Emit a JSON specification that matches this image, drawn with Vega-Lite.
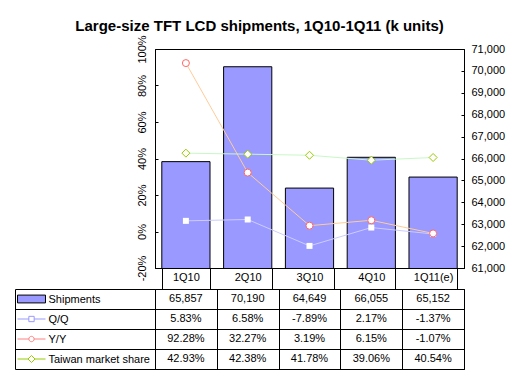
{
  "$schema": "https://vega.github.io/schema/vega-lite/v6.json",
  "background": "white",
  "padding": {"left": 14, "top": 19, "right": 5, "bottom": 5},
  "title": {"text": "Large-size TFT LCD shipments, 1Q10-1Q11 (k units)", "font": "Liberation Sans", "fontSize": 15, "fontWeight": "bold", "color": "black", "anchor": "middle", "frame": "bounds", "offset": 0},
  "config": {
    "font": "Liberation Sans",
    "view": {"stroke": "black", "strokeWidth": 1},
    "axis": {"labelFont": "Liberation Sans", "labelColor": "black", "labelFontSize": 11, "domainColor": "black", "tickColor": "black", "title": null, "labelOverlap": false, "labelFlush": false}
  },
  "datasets": {
    "main": [
      {"quarter": "1Q10", "shipments": 65857, "qq": 5.83, "yy": 92.28, "share": 42.93},
      {"quarter": "2Q10", "shipments": 70190, "qq": 6.58, "yy": 32.27, "share": 42.38},
      {"quarter": "3Q10", "shipments": 64649, "qq": -7.89, "yy": 3.19, "share": 41.78},
      {"quarter": "4Q10", "shipments": 66055, "qq": 2.17, "yy": 6.15, "share": 39.06},
      {"quarter": "1Q11(e)", "shipments": 65152, "qq": -1.37, "yy": -1.07, "share": 40.54}
    ],
    "table": [
      {"quarter": "1Q10", "row": "Shipments", "label": "65,857"},
      {"quarter": "2Q10", "row": "Shipments", "label": "70,190"},
      {"quarter": "3Q10", "row": "Shipments", "label": "64,649"},
      {"quarter": "4Q10", "row": "Shipments", "label": "66,055"},
      {"quarter": "1Q11(e)", "row": "Shipments", "label": "65,152"},
      {"quarter": "1Q10", "row": "Q/Q", "label": "5.83%"},
      {"quarter": "2Q10", "row": "Q/Q", "label": "6.58%"},
      {"quarter": "3Q10", "row": "Q/Q", "label": "-7.89%"},
      {"quarter": "4Q10", "row": "Q/Q", "label": "2.17%"},
      {"quarter": "1Q11(e)", "row": "Q/Q", "label": "-1.37%"},
      {"quarter": "1Q10", "row": "Y/Y", "label": "92.28%"},
      {"quarter": "2Q10", "row": "Y/Y", "label": "32.27%"},
      {"quarter": "3Q10", "row": "Y/Y", "label": "3.19%"},
      {"quarter": "4Q10", "row": "Y/Y", "label": "6.15%"},
      {"quarter": "1Q11(e)", "row": "Y/Y", "label": "-1.07%"},
      {"quarter": "1Q10", "row": "Taiwan market share", "label": "42.93%"},
      {"quarter": "2Q10", "row": "Taiwan market share", "label": "42.38%"},
      {"quarter": "3Q10", "row": "Taiwan market share", "label": "41.78%"},
      {"quarter": "4Q10", "row": "Taiwan market share", "label": "39.06%"},
      {"quarter": "1Q11(e)", "row": "Taiwan market share", "label": "40.54%"}
    ]
  },
  "bounds": "flush",
  "spacing": 21,
  "vconcat": [
    {
      "width": 309,
      "height": 219,
      "data": {"name": "main"},
      "encoding": {
        "x": {
          "field": "quarter", "type": "nominal",
          "sort": ["1Q10", "2Q10", "3Q10", "4Q10", "1Q11(e)"],
          "scale": {"paddingInner": 0.22, "paddingOuter": 0.11},
          "axis": {"orient": "bottom", "tickBand": "extent", "tickSize": 21, "labelAngle": 0, "labelPadding": -18, "domain": true}
        }
      },
      "layer": [
        {
          "mark": {"type": "bar", "fill": "#9999FF", "stroke": "black", "strokeWidth": 1, "clip": true},
          "encoding": {
            "y": {
              "field": "shipments", "type": "quantitative",
              "scale": {"domain": [61000, 71000], "zero": false, "nice": false},
              "axis": {"orient": "right", "values": [61000, 62000, 63000, 64000, 65000, 66000, 67000, 68000, 69000, 70000, 71000], "labelExpr": "format(datum.value, ',')", "tickSize": -3, "labelPadding": 10, "grid": false, "labelOverlap": false}
            }
          }
        },
        {
          "layer": [
            {
              "mark": {"type": "line", "stroke": "#CCCCFF", "strokeWidth": 1},
              "encoding": {"y": {"field": "qq", "type": "quantitative", "scale": {"domain": [-20, 100], "zero": false, "nice": false}, "axis": {"orient": "left", "values": [-20, 0, 20, 40, 60, 80, 100], "labelExpr": "datum.value + '%'", "labelAngle": -90, "tickSize": -3, "labelPadding": 11, "grid": false, "labelOverlap": false, "labelBound": false, "labelFlush": false}}}
            },
            {
              "mark": {"type": "line", "stroke": "#FFCC99", "strokeWidth": 1},
              "encoding": {"y": {"field": "yy", "type": "quantitative", "scale": {"domain": [-20, 100], "zero": false, "nice": false}, "axis": {"orient": "left", "values": [-20, 0, 20, 40, 60, 80, 100], "labelExpr": "datum.value + '%'", "labelAngle": -90, "tickSize": -3, "labelPadding": 11, "grid": false, "labelOverlap": false, "labelBound": false, "labelFlush": false}}}
            },
            {
              "mark": {"type": "line", "stroke": "#C8F8C8", "strokeWidth": 1},
              "encoding": {"y": {"field": "share", "type": "quantitative", "scale": {"domain": [-20, 100], "zero": false, "nice": false}, "axis": {"orient": "left", "values": [-20, 0, 20, 40, 60, 80, 100], "labelExpr": "datum.value + '%'", "labelAngle": -90, "tickSize": -3, "labelPadding": 11, "grid": false, "labelOverlap": false, "labelBound": false, "labelFlush": false}}}
            },
            {
              "mark": {"type": "point", "shape": "square", "size": 36, "filled": true, "fill": "white", "strokeWidth": 0, "opacity": 1},
              "encoding": {"y": {"field": "qq", "type": "quantitative", "axis": {"orient": "left", "values": [-20, 0, 20, 40, 60, 80, 100], "labelExpr": "datum.value + '%'", "labelAngle": -90, "tickSize": -3, "labelPadding": 11, "grid": false, "labelOverlap": false, "labelBound": false, "labelFlush": false}}}
            },
            {
              "mark": {"type": "point", "shape": "circle", "size": 49, "filled": true, "fill": "white", "stroke": "#FF6666", "strokeWidth": 1, "opacity": 1},
              "encoding": {"y": {"field": "yy", "type": "quantitative", "axis": {"orient": "left", "values": [-20, 0, 20, 40, 60, 80, 100], "labelExpr": "datum.value + '%'", "labelAngle": -90, "tickSize": -3, "labelPadding": 11, "grid": false, "labelOverlap": false, "labelBound": false, "labelFlush": false}}}
            },
            {
              "mark": {"type": "point", "shape": "diamond", "size": 64, "filled": true, "fill": "white", "stroke": "#99CC00", "strokeWidth": 1, "opacity": 1},
              "encoding": {"y": {"field": "share", "type": "quantitative", "axis": {"orient": "left", "values": [-20, 0, 20, 40, 60, 80, 100], "labelExpr": "datum.value + '%'", "labelAngle": -90, "tickSize": -3, "labelPadding": 11, "grid": false, "labelOverlap": false, "labelBound": false, "labelFlush": false}}}
            }
          ]
        }
      ],
      "resolve": {"scale": {"y": "independent"}}
    },
    {
      "width": 309,
      "height": 80,
      "data": {"name": "table"},
      "encoding": {
        "x": {
          "field": "quarter", "type": "nominal",
          "sort": ["1Q10", "2Q10", "3Q10", "4Q10", "1Q11(e)"],
          "scale": {"paddingInner": 0, "paddingOuter": 0},
          "axis": {"labels": false, "ticks": false, "domain": false, "grid": true, "tickBand": "extent", "gridColor": "black", "gridOpacity": 1}
        },
        "y": {
          "field": "row", "type": "nominal",
          "sort": ["Shipments", "Q/Q", "Y/Y", "Taiwan market share"],
          "scale": {"paddingInner": 0, "paddingOuter": 0},
          "axis": {"orient": "left", "offset": 140, "domain": true, "ticks": true, "tickBand": "extent", "tickSize": -140, "grid": true, "gridColor": "black", "gridOpacity": 1, "labelAlign": "left", "labelPadding": 107, "labelFontSize": 11}
        }
      },
      "layer": [
        {
          "mark": {"type": "text", "fontSize": 11, "color": "black", "font": "Liberation Sans"},
          "encoding": {"text": {"field": "label"}}
        },
        {
          "mark": {"type": "point", "size": 0, "filled": true, "strokeWidth": 1},
          "encoding": {
            "shape": {
              "field": "row", "type": "nominal",
              "scale": {"domain": ["Shipments", "Q/Q", "Y/Y", "Taiwan market share"], "range": ["M-1,-0.28H1V0.28H-1Z", "M-1,0H-0.19M0.19,0H1M-0.19,-0.19H0.19V0.19H-0.19Z", "M-1,0H-0.19M0.19,0H1M0.19,0A0.19,0.19,0,1,1,-0.19,0A0.19,0.19,0,1,1,0.19,0Z", "M-1,0H-0.25M0.25,0H1M0,-0.25L0.25,0L0,0.25L-0.25,0Z"]},
              "legend": {"orient": "none", "legendX": -138, "legendY": 240, "direction": "vertical", "title": null, "padding": 0, "rowPadding": 0, "clipHeight": 20, "symbolSize": 784, "symbolStrokeWidth": 1, "symbolOpacity": 1, "labelExpr": "''"}
            },
            "fill": {
              "field": "row", "type": "nominal",
              "scale": {"domain": ["Shipments", "Q/Q", "Y/Y", "Taiwan market share"], "range": ["#9999FF", "white", "white", "white"]},
              "legend": {"orient": "none", "legendX": -138, "legendY": 240, "direction": "vertical", "title": null, "padding": 0, "rowPadding": 0, "clipHeight": 20, "symbolSize": 784, "symbolStrokeWidth": 1, "symbolOpacity": 1, "labelExpr": "''"}
            },
            "stroke": {
              "field": "row", "type": "nominal",
              "scale": {"domain": ["Shipments", "Q/Q", "Y/Y", "Taiwan market share"], "range": ["black", "#9999FF", "#FF8080", "#99CC00"]},
              "legend": {"orient": "none", "legendX": -138, "legendY": 240, "direction": "vertical", "title": null, "padding": 0, "rowPadding": 0, "clipHeight": 20, "symbolSize": 784, "symbolStrokeWidth": 1, "symbolOpacity": 1, "labelExpr": "''"}
            }
          }
        }
      ]
    }
  ]
}
